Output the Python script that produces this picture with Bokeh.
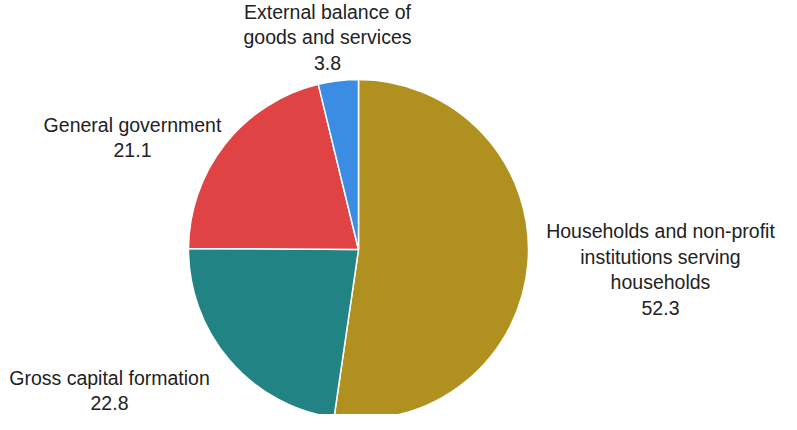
import math
from bokeh.plotting import figure
from bokeh.models import Range1d, ColumnDataSource
from bokeh.core.properties import value
from bokeh.embed import file_html
from bokeh.resources import INLINE

# Data
categories = ["Households and non-profit\ninstitutions serving\nhouseholds",
              "Gross capital formation",
              "General government",
              "External balance of\ngoods and services"]
values = [52.3, 22.8, 21.1, 3.8]
colors = ["#B09120", "#218383", "#E04343", "#3B8DE3"]

# Layout (pixels)
W, H = 781, 414
cx, cy, R = 358, 165, 170
label_pos = [(660, 145), (109, 24), (132, 277), (327, 377)]

total = sum(values)
starts, ends = [], []
a = math.pi / 2
for v in values:
    starts.append(a)
    a -= v / total * 2 * math.pi
    ends.append(a)

labels = [f"{c}\n{v:.1f}" for c, v in zip(categories, values)]

p = figure(width=W, height=H, x_range=Range1d(0, W), y_range=Range1d(0, H),
           output_backend="svg", toolbar_location=None, min_border=0)
p.axis.visible = False
p.grid.visible = False
p.outline_line_color = None
p.background_fill_color = "white"
p.border_fill_color = "white"

src = ColumnDataSource(dict(start=starts, end=ends, color=colors))
p.wedge(x=cx, y=cy, radius=R, start_angle="start", end_angle="end",
        direction="clock", fill_color="color", line_color="white",
        line_width=1.5, source=src)

lsrc = ColumnDataSource(dict(x=[q[0] for q in label_pos], y=[q[1] for q in label_pos], t=labels))
p.text(x="x", y="y", text="t", source=lsrc, text_align="center",
       text_baseline="middle", text_font=value("Liberation Sans"),
       text_font_size="19.5px", text_color="#222222", text_line_height=1.18)

open("out.html", "w").write(file_html(p, INLINE))
